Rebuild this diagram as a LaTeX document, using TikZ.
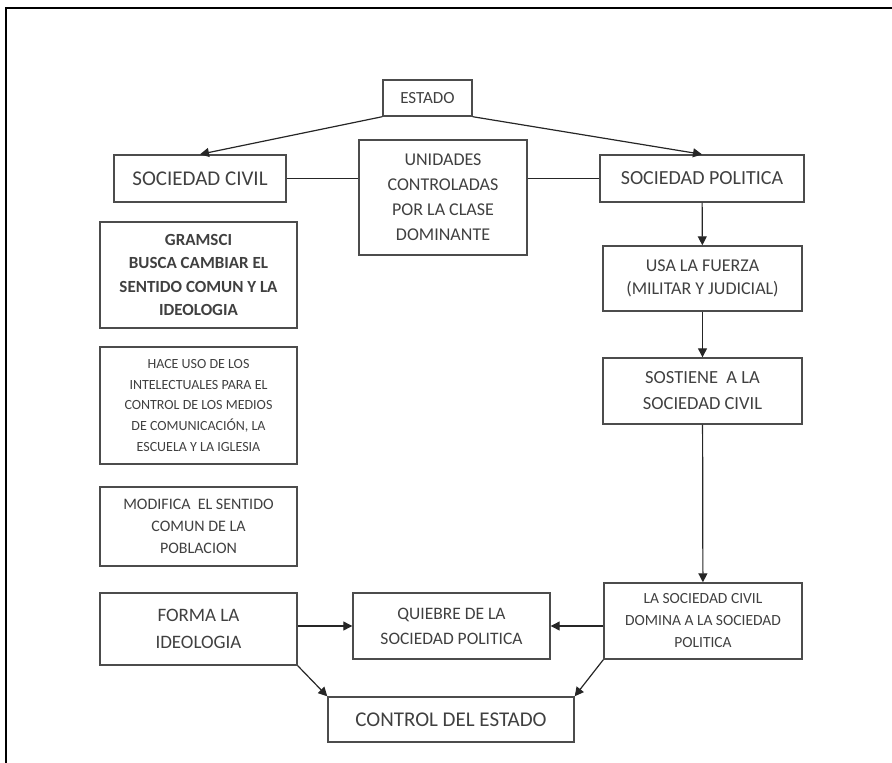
\documentclass[tikz,border=0pt]{standalone}
\usepackage{fontspec}
\setmainfont{Carlito}
\usetikzlibrary{arrows.meta}

\definecolor{boxline}{gray}{0.30}
\definecolor{boxtext}{gray}{0.25}

\newcommand{\fsz}[2]{\fontsize{#1}{#2}\selectfont}

\tikzset{
  box/.style={draw=boxline, line width=1.4pt, text=boxtext, align=center, inner sep=0pt},
  link/.style={draw=black!85, line width=1.2pt},
  arr/.style={link, -{Triangle[length=9pt,width=9pt]}}
}

\begin{document}
\begin{tikzpicture}[x=1pt,y=-1pt]
    \useasboundingbox (0,0) rectangle (892,763);
    % Frame
    \draw[line width=2pt] (6,763) -- (6,8) -- (892,8);

    % Top
    \node[box, minimum width=89, minimum height=36, font=\fsz{17}{20}] (estado) at (427.5,98) {ESTADO};
    \node[box, minimum width=172, minimum height=47, font=\fsz{21}{24}] (civil) at (200,178.5) {SOCIEDAD CIVIL};
    \node[box, minimum width=168, minimum height=115, font=\fsz{18}{25}] (unidades) at (443,197.5) {UNIDADES\\CONTROLADAS\\POR LA CLASE\\DOMINANTE};
    \node[box, minimum width=204, minimum height=47, font=\fsz{20}{24}] (politica) at (702,178.5) {SOCIEDAD POLITICA};

    % Left column
    \node[box, minimum width=197, minimum height=106, font=\bfseries\fsz{17}{23.5}] (gramsci) at (198.5,275) {GRAMSCI\\BUSCA CAMBIAR EL\\SENTIDO COMUN Y LA\\IDEOLOGIA};
    \node[box, minimum width=197, minimum height=117, font=\fsz{14}{20.7}] (hace) at (198.5,405.5) {HACE USO DE LOS\\INTELECTUALES PARA EL\\CONTROL DE LOS MEDIOS\\DE COMUNICACIÓN, LA\\ESCUELA Y LA IGLESIA};
    \node[box, minimum width=197, minimum height=79, font=\fsz{16}{22}] (modifica) at (198.5,526.5) {MODIFICA\ \ EL SENTIDO\\COMUN DE LA\\POBLACION};
    \node[box, minimum width=197, minimum height=72, font=\fsz{19}{27}] (forma) at (198.5,629) {FORMA LA\\IDEOLOGIA};

    % Right column
    \node[box, minimum width=199, minimum height=65, font=\fsz{18}{23}] (fuerza) at (702.5,278.5) {USA LA FUERZA\\(MILITAR Y JUDICIAL)};
    \node[box, minimum width=199, minimum height=66, font=\fsz{18.5}{26}] (sostiene) at (702.5,391) {SOSTIENE\ \ A LA\\SOCIEDAD CIVIL};
    \node[box, minimum width=198, minimum height=76, font=\fsz{15.5}{22}] (domina) at (703,621) {LA SOCIEDAD CIVIL\\DOMINA A LA SOCIEDAD\\POLITICA};

    % Bottom
    \node[box, minimum width=197, minimum height=66, font=\fsz{17.5}{25}] (quiebre) at (451.5,626) {QUIEBRE DE LA\\SOCIEDAD POLITICA};
    \node[box, minimum width=246, minimum height=45, font=\fsz{21}{24}] (control) at (451,719.5) {CONTROL DEL ESTADO};

    % Connectors
    \draw[arr] (estado.south west) -- (civil.north);
    \draw[arr] (estado.south east) -- (politica.north);
    \draw[link] (civil.east) -- (civil.east -| unidades.west);
    \draw[link] (politica.west -| unidades.east) -- (politica.west);
    \draw[arr] (politica) -- (fuerza);
    \draw[arr] (fuerza) -- (sostiene);
    \draw[arr] (sostiene) -- (domina);
    \draw[arr] (forma.east |- quiebre.west) -- (quiebre.west);
    \draw[arr] (domina.west |- quiebre.east) -- (quiebre.east);
    \draw[arr] (forma.south east) -- (control.north west);
    \draw[arr] (domina.south west) -- (control.north east);
\end{tikzpicture}
\end{document}
